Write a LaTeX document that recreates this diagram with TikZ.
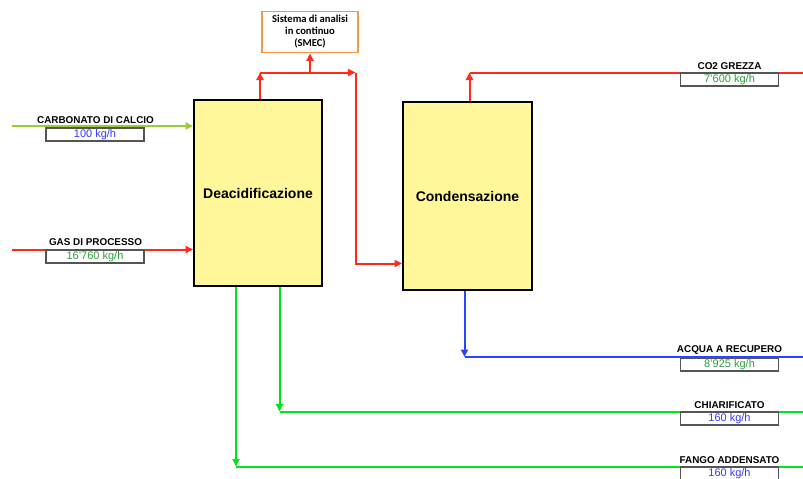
\documentclass[tikz,border=0pt]{standalone}
\usepackage{fontspec}
\setmainfont{Liberation Sans}
\newfontfamily\calfont{Carlito}
\usetikzlibrary{arrows.meta}

\definecolor{flowred}{HTML}{FF2A1A}
\definecolor{flowgreen}{HTML}{00E61A}
\definecolor{flowlime}{HTML}{9ACD32}
\definecolor{flowblue}{HTML}{2A45FF}
\definecolor{unitfill}{HTML}{FFF799}
\definecolor{smecedge}{HTML}{F79646}
\definecolor{valgreen}{HTML}{2E9E3A}
\definecolor{valblue}{HTML}{3838FF}
\definecolor{boxgray}{HTML}{555555}

\tikzset{
  unit/.style={draw=black, line width=2pt, fill=unitfill, inner sep=0pt,
    font=\fontsize{14}{16}\selectfont\bfseries},
  smecbox/.style={draw=smecedge, line width=1.8pt, fill=white, inner sep=0pt,
    minimum width=96pt, minimum height=41pt, align=center,
    font=\calfont\fontsize{10.6}{12}\selectfont\bfseries},
  valbox/.style={draw=boxgray, line width=1.3pt, fill=white, inner sep=0pt,
    minimum width=98pt, minimum height=13pt, font=\fontsize{11}{12}\selectfont},
  lbl/.style={inner sep=0pt, font=\fontsize{9.9}{11}\selectfont\bfseries},
  tip/.style={-{Triangle[length=7.5pt,width=7pt]}},
  redline/.style={draw=flowred, line width=2pt},
  greenline/.style={draw=flowgreen, line width=2pt},
  limeline/.style={draw=flowlime, line width=2pt},
  blueline/.style={draw=flowblue, line width=2pt},
}

\begin{document}
\begin{tikzpicture}[x=1pt,y=-1pt]
\useasboundingbox (0,0) rectangle (803,479);

% process units
\node[unit, minimum width=128pt, minimum height=186pt] (deacid) at (258,193) {Deacidificazione};
\node[unit, minimum width=129pt, minimum height=188pt] (cond) at (467.5,196) {Condensazione};
\node[smecbox] (smec) at (310,32) {Sistema di analisi\\in continuo\\(SMEC)};

% junction and end points of the streams
\coordinate (cin) at (12,126);
\coordinate (gin) at (12,249.5);
\coordinate (j1) at (260,72.5);
\coordinate (j2) at (355.5,72.5);
\coordinate (j3) at (355.5,263.5);
\coordinate (co2) at (469.5,72.5);
\coordinate (co2end) at (803,72.5);
\coordinate (aq) at (464.5,357);
\coordinate (aqend) at (803,357);
\coordinate (ch) at (279.5,411.5);
\coordinate (chend) at (803,411.5);
\coordinate (fa) at (236,466.5);
\coordinate (faend) at (803,466.5);

% inlet streams
\draw[limeline, tip] (cin) -- (deacid.west |- cin);
\draw[redline, tip] (gin) -- (deacid.west |- gin);

% gas from deacidification to analysis and condensation
\draw[redline, tip] (deacid.north -| j1) -- (j1);
\draw[redline, tip] (j1) -- (j2);
\draw[redline, tip] (smec.south |- j1) -- (smec.south);
\draw[redline, tip] (j2) -- (j3) -- (cond.west |- j3);

% outlet streams
\draw[redline, tip] (cond.north -| co2) -- (co2);
\draw[redline] (co2) -- (co2end);
\draw[blueline, tip] (cond.south -| aq) -- (aq);
\draw[blueline] (aq) -- (aqend);
\draw[greenline, tip] (deacid.south -| ch) -- (ch);
\draw[greenline] (ch) -- (chend);
\draw[greenline, tip] (deacid.south -| fa) -- (fa);
\draw[greenline] (fa) -- (faend);

% stream labels and flow rates
\node[lbl] (l1) at (95.5,120.5) {CARBONATO DI CALCIO};
\node[valbox, text=valblue] (v1) at (95,134.5) {100 kg/h};
\node[lbl] (l2) at (95.5,242) {GAS DI PROCESSO};
\node[valbox, text=valgreen] (v2) at (95,256.5) {16'760 kg/h};
\node[lbl] (l3) at (729.5,66) {CO2 GREZZA};
\node[valbox, text=valgreen] (v3) at (729.5,79.5) {7'600 kg/h};
\node[lbl] (l4) at (729.5,350.5) {ACQUA A RECUPERO};
\node[valbox, text=valgreen] (v4) at (729.5,364.5) {8'925 kg/h};
\node[lbl] (l5) at (729.5,405) {CHIARIFICATO};
\node[valbox, text=valblue] (v5) at (729.5,418.5) {160 kg/h};
\node[lbl] (l6) at (729.5,460) {FANGO ADDENSATO};
\node[valbox, text=valblue] (v6) at (729.5,473.5) {160 kg/h};
\end{tikzpicture}
\end{document}
